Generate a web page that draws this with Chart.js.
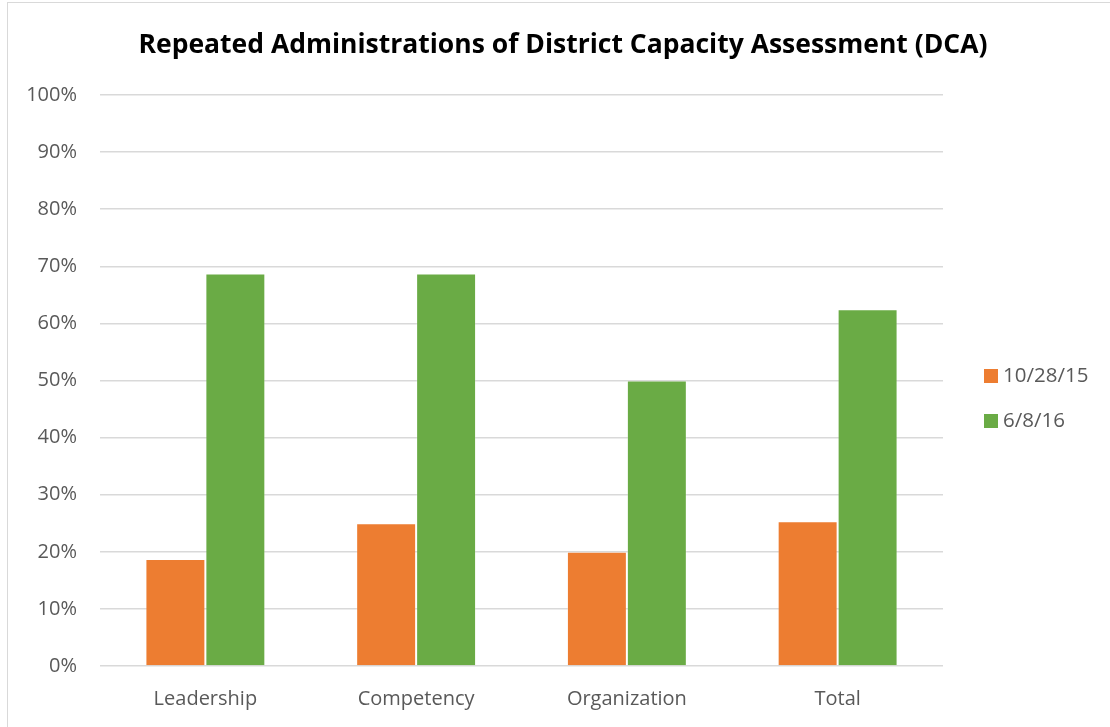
<!DOCTYPE html>
<html>
<head>
<meta charset="utf-8">
<script src="https://cdn.jsdelivr.net/npm/chart.js@4/dist/chart.umd.min.js"></script>
<style>
  html, body { margin: 0; padding: 0; background: #fff; }
  #wrap { position: relative; width: 1110px; height: 727px; overflow: hidden; }
  #frame { position: absolute; left: 7px; top: 2px; width: 1200px; height: 800px;
           border-left: 1px solid #d9d9d9; border-top: 1px solid #d9d9d9; }
  #title { position: absolute; left: 0; width: 1126px; top: 25px; text-align: center;
           font-family: "Open Sans", sans-serif; font-weight: bold; color: #000; white-space: nowrap; }
  canvas { position: absolute; left: 0; top: 0; }
  .leg { position: absolute; font-family: "Open Sans", sans-serif; font-size: 20.5px; color: #595959; line-height: 24px; }
  .leg span { display: inline-block; width: 14px; height: 14px; vertical-align: -1px; margin-right: 5px; }
</style>
</head>
<body>
<div id="wrap">
  <div id="frame"></div>
  <canvas id="c" width="1110" height="727"></canvas>
  <div id="title"></div>
  <div id="legend"></div>
</div>
<script>
const titleText = "Repeated Administrations of District Capacity Assessment (DCA)";
const categories = ["Leadership", "Competency", "Organization", "Total"];
const seriesNames = ["10/28/15", "6/8/16"];
const series1 = [18.75, 25, 20, 25.35];
const series2 = [68.75, 68.75, 50, 62.5];
const colors = ["#ED7D31", "#6AAB45"];

const titleEl = document.getElementById('title');
titleEl.textContent = titleText;
titleEl.style.fontSize = '26.5px';

const legend = document.getElementById('legend');
seriesNames.forEach((n, i) => {
  const d = document.createElement('div');
  d.className = 'leg';
  d.style.left = '984px';
  d.style.top = (362 + i * 45) + 'px';
  d.innerHTML = '<span style="background:' + colors[i] + '"></span>' + n;
  legend.appendChild(d);
});

new Chart(document.getElementById('c'), {
  type: 'bar',
  data: {
    labels: categories,
    datasets: [
      { label: seriesNames[0], data: series1, backgroundColor: colors[0], borderColor: 'rgba(255,255,255,0.2)', borderWidth: 1 },
      { label: seriesNames[1], data: series2, backgroundColor: colors[1], borderColor: 'rgba(255,255,255,0.2)', borderWidth: 1 }
    ]
  },
  options: {
    responsive: false,
    animation: false,
    layout: { padding: { left: 0, right: 167, top: 95, bottom: 0 } },
    plugins: { legend: { display: false }, title: { display: false }, tooltip: { enabled: false } },
    datasets: { bar: { categoryPercentage: 0.569, barPercentage: 1.0 } },
    scales: {
      x: {
        grid: { display: false },
        border: { display: false },
        ticks: { color: '#595959', font: { family: 'Open Sans', size: 20 }, padding: 13, maxRotation: 0 },
        afterFit: s => { s.height = 61; }
      },
      y: {
        min: 0, max: 100,
        grid: { color: '#d9d9d9', lineWidth: 1.5, drawTicks: false },
        border: { display: false },
        ticks: { stepSize: 10, color: '#595959', font: { family: 'Open Sans', size: 20 }, padding: 23,
                 callback: v => v + '%' },
        afterFit: s => { s.width = 100; }
      }
    }
  }
});
</script>
</body>
</html>
